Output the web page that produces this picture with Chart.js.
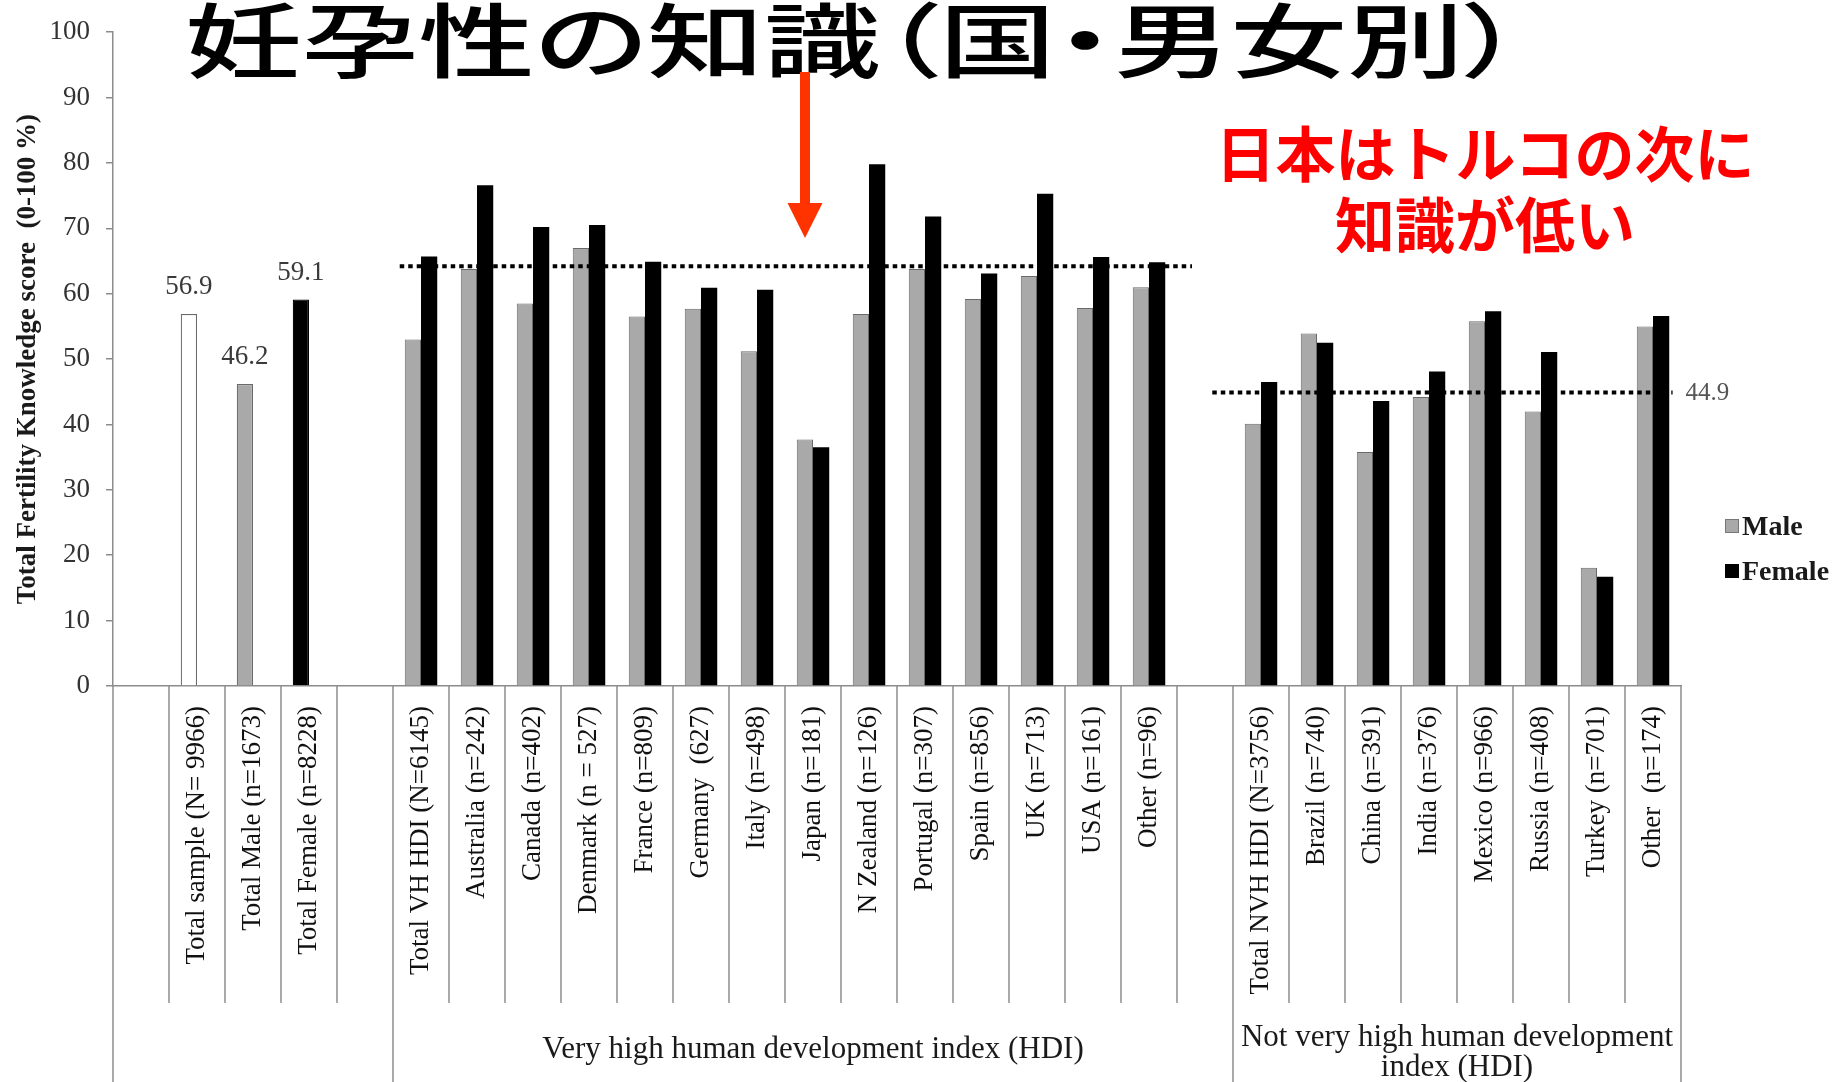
<!DOCTYPE html>
<html>
<head>
<meta charset="utf-8">
<script src="https://cdn.jsdelivr.net/npm/chart.js@4.4.0/dist/chart.umd.min.js"></script>
<style>
html,body{margin:0;padding:0;background:#fff;}
#wrap{position:relative;width:1845px;height:1082px;overflow:hidden;background:#fff;}
#box{position:absolute;left:0;top:0;width:1845px;height:1082px;}
#title{position:absolute;left:185px;top:-5px;font-family:"Noto Sans CJK JP";font-size:81px;line-height:81px;font-weight:500;white-space:nowrap;transform:scaleX(1.44);transform-origin:0 0;color:#000;font-feature-settings:"palt";}
#mask{position:absolute;left:1192px;top:0;width:653px;height:308px;background:#fff;}
#note{position:absolute;left:1192px;width:586px;top:115px;text-align:center;color:#ff0000;font-family:"Noto Sans CJK JP";font-weight:bold;font-size:60px;line-height:71px;}
#arrow{position:absolute;left:0;top:0;pointer-events:none;}
.sw{position:absolute;left:1725px;width:14px;height:14px;}
.lt{position:absolute;left:1742px;font-family:"Liberation Serif";font-weight:bold;font-size:28px;line-height:30px;color:#1a1a1a;}
</style>
</head>
<body>
<div id="wrap">
  <div id="box"><canvas id="c"></canvas></div>
  <div id="mask"></div>
  <div id="title">妊孕性の知識（国・男女別）</div>
  <div id="note">日本はトルコの次に<br>知識が低い</div>
  <svg id="arrow" width="1845" height="1082">
    <rect x="800" y="72" width="10" height="133" fill="#ff3300"/>
    <polygon points="787.5,203 822.5,203 805,238" fill="#ff3300"/>
  </svg>
  <div class="sw" style="top:519px;background:#a9a9a9;border:1px solid #777;box-sizing:border-box;"></div>
  <div class="lt" style="top:511px;">Male</div>
  <div class="sw" style="top:564px;background:#000;"></div>
  <div class="lt" style="top:556px;">Female</div>
</div>
<script>
// ---- data ----
const categories = [
  "", "Total sample (N= 9966)", "Total Male (n=1673)", "Total Female (n=8228)", "",
  "Total VH HDI (N=6145)", "Australia (n=242)", "Canada (n=402)", "Denmark (n = 527)",
  "France (n=809)", "Germany  (627)", "Italy (n=498)", "Japan (n=181)", "N Zealand (n=126)",
  "Portugal (n=307)", "Spain (n=856)", "UK (n=713)", "USA (n=161)", "Other (n=96)", "",
  "Total NVH HDI (N=3756)", "Brazil (n=740)", "China (n=391)", "India (n=376)",
  "Mexico (n=966)", "Russia (n=408)", "Turkey (n=701)", "Other  (n=174)"
];
const totalValues = [null, 56.9, 46.2, 59.1, null,
  null, null, null, null, null, null, null, null, null, null, null, null, null, null, null,
  null, null, null, null, null, null, null, null];
const maleValues = [null, null, null, null, null,
  53.0, 63.8, 58.5, 67.0, 56.5, 57.7, 51.2, 37.7, 56.9, 63.8, 59.2, 62.7, 57.8, 61.0, null,
  40.1, 53.9, 35.8, 44.2, 55.8, 42.0, 18.1, 55.0];
const femaleValues = [null, null, null, null, null,
  65.7, 76.6, 70.2, 70.5, 64.9, 60.9, 60.6, 36.5, 79.8, 71.8, 63.1, 75.3, 65.6, 64.8, null,
  46.5, 52.5, 43.6, 48.1, 57.3, 51.1, 16.7, 56.6];
const yTicks = [0, 10, 20, 30, 40, 50, 60, 70, 80, 90, 100];
const groupMeans = [64.2, 44.9];
const groupMeanLabels = ["", "44.9"];
const groupLabels = [["Very high human development index (HDI)"], ["Not very high human development", "index (HDI)"]];
const groupStarts = [0, 5, 20, 28];

// ---- styles ----
const totalColors = ["#ffffff", "#a9a9a9", "#000000"];
const totalBg = totalValues.map((v, i) => i >= 1 && i <= 3 ? totalColors[i - 1] : "#ffffff");
const totalBorder = totalValues.map((v, i) => i === 3 ? "#000000" : "#6a6a6a");
const SERIF = "'Liberation Serif', 'Times New Roman', serif";

const decor = {
  id: 'decor',
  afterDraw(chart) {
    const {ctx} = chart;
    const x = chart.scales.x, y = chart.scales.y;
    const n = categories.length;
    const cw = (x.right - x.left) / n;
    const base = y.getPixelForValue(0);
    ctx.save();
    // table lines
    ctx.strokeStyle = '#8c8c8c';
    ctx.lineWidth = 1.5;
    for (let i = 0; i <= n; i++) {
      const px = x.left + i * cw;
      ctx.beginPath();
      ctx.moveTo(px, base);
      ctx.lineTo(px, groupStarts.includes(i) ? chart.height : base + 317);
      ctx.stroke();
    }
    // group labels
    ctx.fillStyle = '#1a1a1a';
    ctx.font = "31px " + SERIF;
    ctx.textAlign = 'center';
    ctx.textBaseline = 'middle';
    groupLabels.forEach((lines, g) => {
      const cx = x.left + (groupStarts[g + 1] + groupStarts[g + 2]) / 2 * cw;
      if (lines.length === 1) {
        ctx.fillText(lines[0], cx, base + 364);
      } else {
        lines.forEach((t, k) => ctx.fillText(t, cx, base + 352 + k * 30));
      }
    });
    // dotted mean lines
    ctx.setLineDash([4.5, 4]);
    ctx.lineWidth = 4;
    ctx.strokeStyle = '#000';
    const ranges = [[x.getPixelForValue(5) - 0.38 * cw, x.getPixelForValue(19)],
                    [x.getPixelForValue(20) - 0.87 * cw, x.getPixelForValue(27) + 0.35 * cw]];
    groupMeans.forEach((m, g) => {
      const py = y.getPixelForValue(m);
      ctx.beginPath();
      ctx.moveTo(ranges[g][0], py);
      ctx.lineTo(ranges[g][1], py);
      ctx.stroke();
      if (groupMeanLabels[g]) {
        ctx.fillStyle = '#555';
        ctx.font = "25px " + SERIF;
        ctx.textAlign = 'left';
        ctx.fillText(groupMeanLabels[g], ranges[g][1] + 13, py + 1);
      }
    });
    ctx.setLineDash([]);
    // value labels on totals
    const meta = chart.getDatasetMeta(0);
    ctx.fillStyle = '#3a3a3a';
    ctx.font = "27px " + SERIF;
    ctx.textAlign = 'center';
    meta.data.forEach((bar, i) => {
      if (totalValues[i] != null) ctx.fillText(totalValues[i].toFixed(1), bar.x, bar.y - 27);
    });
    ctx.restore();
  }
};

new Chart(document.getElementById('c'), {
  type: 'bar',
  data: {
    labels: categories,
    datasets: [
      {label: 'Total', data: totalValues, stack: 's1', backgroundColor: totalBg, borderColor: totalBorder, borderWidth: 1.2},
      {label: 'Male', data: maleValues, stack: 's1', backgroundColor: '#a9a9a9', borderColor: '#6a6a6a', borderWidth: 1},
      {label: 'Female', data: femaleValues, stack: 's2', backgroundColor: '#000000', borderColor: '#000000', borderWidth: 0}
    ]
  },
  options: {
    responsive: true,
    maintainAspectRatio: false,
    animation: false,
    layout: {padding: {left: 0, top: 26, right: 164, bottom: 0}},
    datasets: {bar: {categoryPercentage: 0.58, barPercentage: 1.0}},
    plugins: {legend: {display: false}, tooltip: {enabled: false}},
    scales: {
      x: {
        grid: {display: false},
        border: {display: true, color: '#8c8c8c', width: 1.5},
        ticks: {
          autoSkip: false, minRotation: 90, maxRotation: 90, padding: 12,
          color: '#111', font: {family: SERIF, size: 27}
        },
        afterFit(scale) { scale.height = 396; }
      },
      y: {
        min: 0, max: 100,
        afterBuildTicks(scale) { scale.ticks = yTicks.map(v => ({value: v})); },
        grid: {drawOnChartArea: false, drawTicks: true, tickLength: 7, color: '#8c8c8c', lineWidth: 1.5},
        border: {display: true, color: '#8c8c8c', width: 1.5},
        ticks: {padding: 16, color: '#333', font: {family: SERIF, size: 27}},
        title: {display: true, text: 'Total Fertility Knowledge score  (0-100 %)', color: '#1a1a1a',
                font: {family: SERIF, size: 27, weight: 'bold'}, padding: {top: 12, bottom: 0}},
        afterFit(scale) { scale.width = 113; }
      }
    }
  },
  plugins: [decor]
});
</script>
</body>
</html>
